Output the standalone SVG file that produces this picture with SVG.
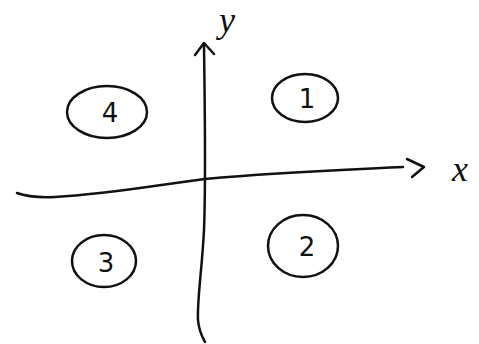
<svg xmlns="http://www.w3.org/2000/svg" width="479" height="344" viewBox="0 0 479 344">
<style>
.ink{fill:none;stroke:#111;stroke-width:2.5;stroke-linecap:round;stroke-linejoin:round}
.lbl{font-family:"DejaVu Sans","Liberation Sans",sans-serif;font-size:26px;fill:#111;text-anchor:middle}
.axl{font-family:"Liberation Serif",serif;font-style:italic;font-size:36px;fill:#111;text-anchor:middle}
</style>
<rect width="479" height="344" fill="#fff"/>
<g id="connectors">
<path class="ink" d="M17,193 Q30,198 55,197 C110,194 150,186 205,179 C280,172 340,170 403,167"/>
<path class="ink" d="M407,159 L424,167 L412,177"/>
<path class="ink" d="M204,46 C205,120 206,180 204,230 C202,270 197,300 198,320 C199,332 203,338 205,342"/>
<path class="ink" d="M195,55 L204,43 L214,54"/>
</g>
<g id="label-x"><text class="axl" x="460" y="181">x</text></g>
<g id="label-y"><text class="axl" x="227" y="32">y</text></g>
<g id="q4"><ellipse class="ink" cx="107" cy="112" rx="40" ry="26"/><text class="lbl" x="110" y="122">4</text></g>
<g id="q1"><ellipse class="ink" cx="305" cy="98" rx="33" ry="24"/><text class="lbl" x="307" y="108">1</text></g>
<g id="q3"><ellipse class="ink" cx="104" cy="261" rx="32" ry="26"/><text class="lbl" x="106" y="272">3</text></g>
<g id="q2"><ellipse class="ink" cx="303" cy="246" rx="35" ry="31"/><text class="lbl" x="307" y="256">2</text></g>
</svg>
